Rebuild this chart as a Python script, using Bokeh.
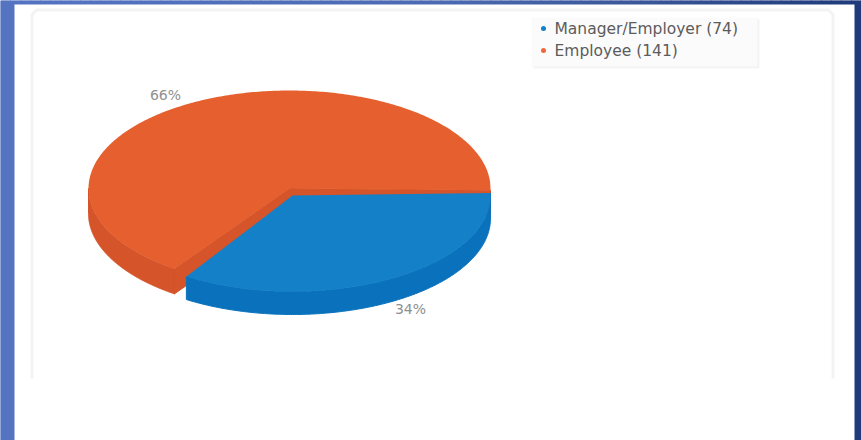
import numpy as np
from bokeh.plotting import figure
from bokeh.models import Range1d
from bokeh.core.properties import value
from bokeh.embed import file_html
from bokeh.resources import INLINE

# Survey responses by role
categories = ["Manager/Employer", "Employee"]
counts = [74, 141]
percent_labels = ["34%", "66%"]
top_colors = ["#1380c8", "#e6602f"]
wall_colors = ["#0a72bc", "#d5542a"]

W, H = 861, 440
p = figure(width=W, height=H, output_backend="svg", toolbar_location=None,
           x_range=Range1d(0, W), y_range=Range1d(H, 0), min_border=0)
p.axis.visible = False
p.grid.visible = False
p.outline_line_color = None
p.background_fill_color = "white"
p.border_fill_color = "white"


def hex_to_rgb(c):
    return np.array([int(c[i:i + 2], 16) for i in (1, 3, 5)], dtype=float)


# Slide backdrop: blue gradient that stays light, then darkens towards the right
stops = [0.0, 0.5, 0.75, 1.0]
stop_colors = [hex_to_rgb(c) for c in ("#5474c2", "#4c6ab2", "#3a5598", "#1f3a7a")]
edges = np.linspace(0, W, 87)
mids = (edges[:-1] + edges[1:]) / 2 / W
channels = [np.interp(mids, stops, [c[k] for c in stop_colors]) for k in range(3)]
shades = ["#%02x%02x%02x" % (round(r), round(g), round(b)) for r, g, b in zip(*channels)]
p.quad(left=edges[:-1], right=edges[1:], top=0, bottom=H, fill_color=shades, line_color=shades)
p.quad(left=14, right=854, top=4, bottom=H, fill_color="white", line_color=None)

# Chart card: faint border on three sides
p.line([31.5, 31.5, 36, 828, 832.5, 832.5], [378, 14, 9.5, 9.5, 14, 378],
       line_color="#f3f3f3", line_width=3)

# Pie geometry
total = sum(counts)
sweeps = [c / total * 2 * np.pi for c in counts]
TILT = np.radians(1.0)


def arc(cx, cy, rx, ry, a0, a1, n=200):
    t = np.linspace(a0, a1, n)
    return cx + rx * np.cos(t), cy + ry * np.sin(t)


def extruded(xs, ys, depth):
    return np.r_[xs, xs[::-1]], np.r_[ys, ys[::-1] + depth]


# Employee slice sits behind, its walls drawn first
cx, cy, rx, ry = 289, 188, 201, 98
depth = 25
a0 = sweeps[0] + TILT
a1 = a0 + sweeps[1]
wall = dict(fill_color=wall_colors[1], line_color=wall_colors[1], line_width=1)
x, y = arc(cx, cy, rx, ry, a0, np.pi)
wx, wy = extruded(x, y, depth)
p.patch(wx, wy, **wall)
tx, ty = cx + rx * np.cos(a0), cy + ry * np.sin(a0)
p.patch([cx, tx, tx, cx], [cy, ty, ty + depth, cy + depth], **wall)
ex, ey = cx + rx * np.cos(a1), cy + ry * np.sin(a1)
p.patch([cx, ex, ex, cx], [cy, ey, ey + depth, cy + depth], **wall)
x, y = arc(cx, cy, rx, ry, a0, a1, 320)
p.patch(np.r_[cx, x], np.r_[cy, y], fill_color=top_colors[1], line_color=None)

# Manager/Employer slice pulled slightly forward
cx, cy, rx, ry = 292, 195, 198, 96
depth = 23
a0 = -1.5 * TILT
a1 = a0 + sweeps[0]
x, y = arc(cx, cy, rx, ry, a0, a1)
wx, wy = extruded(x, y, depth)
p.patch(wx, wy, fill_color=wall_colors[0], line_color=wall_colors[0], line_width=1)
p.patch(np.r_[cx, x], np.r_[cy, y], fill_color=top_colors[0], line_color=None)

# Percentage labels
p.text([410, 165], [308, 94], text=percent_labels, text_color="#8f8f8f", text_font=value("DejaVu Sans"),
       text_font_size="14px", text_align="center", text_baseline="middle")

# Legend box with a soft shadow
for off, col in [(2, "#f6f6f6"), (1, "#f1f1f1")]:
    p.quad(left=531 + off, right=757 + off, top=17 + off, bottom=66 + off, fill_color=col, line_color=None)
p.quad(left=531, right=757, top=17, bottom=66, fill_color="#fbfbfb", line_color=None)

legend_labels = [f"{c} ({n})" for c, n in zip(categories, counts)]
legend_y = [28, 50]
p.scatter([543, 543], legend_y, size=5, marker="circle", fill_color=[top_colors[0], "#f0673c"], line_color=None)
p.text([554, 554], legend_y, text=legend_labels, text_color="#5c5c5c", text_font=value("DejaVu Sans"),
       text_font_size="15.5px", text_baseline="middle")

open("out.html", "w").write(file_html(p, INLINE))
